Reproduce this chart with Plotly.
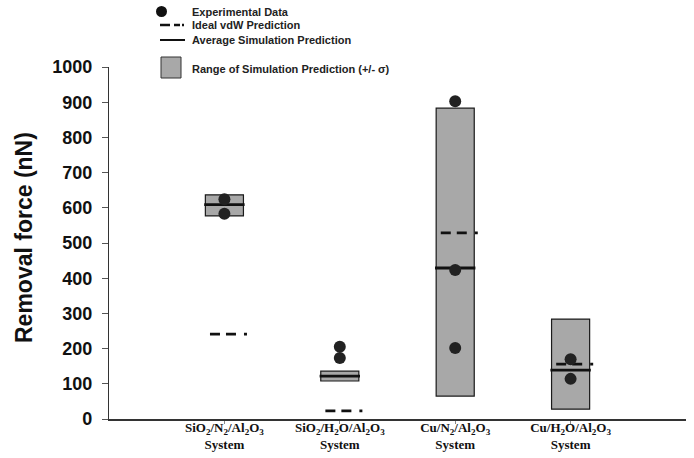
import plotly.graph_objects as go

# ---- data ----
categories = ["SiO<sub>2</sub>/N<sub>2</sub>/Al<sub>2</sub>O<sub>3</sub><br>System",
              "SiO<sub>2</sub>/H<sub>2</sub>O/Al<sub>2</sub>O<sub>3</sub><br>System",
              "Cu/N<sub>2</sub>/Al<sub>2</sub>O<sub>3</sub><br>System",
              "Cu/H<sub>2</sub>O/Al<sub>2</sub>O<sub>3</sub><br>System"]
positions = [1, 2, 3, 4]
range_low = [577, 108, 65, 28]
range_high = [637, 136, 883, 284]
avg_sim = [609, 122, 429, 139]
ideal_vdw = [241, 23, 529, 156]
exp_data = [[624, 583], [205, 173], [903, 423, 202], [170, 114]]
yticks = [0, 100, 200, 300, 400, 500, 600, 700, 800, 900, 1000]
y_title = "Removal force (nN)"

W, H = 694, 458
L, R, T, B = 109, 8, 67, 39
half = 0.165

fig = go.Figure()

# range boxes
fig.add_trace(go.Bar(
    x=positions, y=[h - l for h, l in zip(range_high, range_low)], base=range_low,
    width=2 * half, marker=dict(color="#a8a8a8", line=dict(color="#1a1a1a", width=1.2)),
    showlegend=False, hoverinfo="skip"))

# average lines
ax, ay = [], []
for p, v in zip(positions, avg_sim):
    ax += [p - half - 0.01, p + half + 0.01, None]
    ay += [v, v, None]
fig.add_trace(go.Scatter(x=ax, y=ay, mode="lines",
                         line=dict(color="#111", width=2.8), showlegend=False))

# ideal vdW dashed (one trace per system so each dash pattern starts fresh)
for p, v in zip(positions, ideal_vdw):
    fig.add_trace(go.Scatter(x=[p - half + 0.04, p + half + 0.04], y=[v, v], mode="lines",
                             line=dict(color="#111", width=2.8, dash="10px,6px,10px,8px,3px,60px"),
                             showlegend=False))

# experimental data
ex, ey = [], []
for p, vals in zip(positions, exp_data):
    for v in vals:
        ex.append(p)
        ey.append(v)
fig.add_trace(go.Scatter(x=ex, y=ey, mode="markers",
                         marker=dict(color="#222", size=12, line=dict(width=0)),
                         showlegend=False))

# ---- manual legend (pixel -> paper) ----
def px(x):
    return (x - L) / (W - L - R)

def py(y):
    return (H - B - y) / (H - T - B)

shapes = [
    dict(type="circle", xref="paper", yref="paper",
         x0=px(156), x1=px(167), y0=py(17), y1=py(6),
         fillcolor="#111", line=dict(width=0)),
    dict(type="line", xref="paper", yref="paper",
         x0=px(160), x1=px(170), y0=py(25), y1=py(25), line=dict(color="#111", width=2.5)),
    dict(type="line", xref="paper", yref="paper",
         x0=px(174), x1=px(180), y0=py(25), y1=py(25), line=dict(color="#111", width=2.5)),
    dict(type="line", xref="paper", yref="paper",
         x0=px(182), x1=px(184), y0=py(25), y1=py(25), line=dict(color="#111", width=2.5)),
    dict(type="line", xref="paper", yref="paper",
         x0=px(160), x1=px(185), y0=py(40), y1=py(40), line=dict(color="#111", width=2)),
    dict(type="rect", xref="paper", yref="paper",
         x0=px(161), x1=px(181), y0=py(78), y1=py(57),
         fillcolor="#a8a8a8", line=dict(color="#333", width=1)),
]
leg_text = [("Experimental Data", 12), ("Ideal vdW Prediction", 25),
            ("Average Simulation Prediction", 40), ("Range of Simulation Prediction (+/- σ)", 69)]
annotations = []
for t, yy in leg_text:
    annotations.append(dict(text="<b>" + t + "</b>", xref="paper", yref="paper",
                            x=px(190), y=py(yy), xanchor="left", yanchor="middle",
                            showarrow=False, font=dict(family="Arial, Liberation Sans", size=11, color="#222")))
# y-axis title
annotations.append(dict(text="<b>" + y_title + "</b>", xref="paper", yref="paper",
                        x=px(24), y=py(238), xanchor="center", yanchor="middle", textangle=-90,
                        showarrow=False, font=dict(family="Arial, Liberation Sans", size=23, color="#111")))

fig.update_layout(
    width=W, height=H,
    margin=dict(l=L, r=R, t=T, b=B),
    paper_bgcolor="white", plot_bgcolor="white",
    shapes=shapes, annotations=annotations,
    xaxis=dict(range=[0, 5], tickvals=positions,
               ticktext=["<b>" + c.replace("<br>", "</b><br><b>") + "</b>" for c in categories],
               automargin=False, ticklabelstandoff=-7,
               showline=True, linecolor="#333", linewidth=1.5, ticks="outside", ticklen=3,
               tickcolor="#888", showgrid=False, zeroline=False,
               tickfont=dict(family="Liberation Serif, Times New Roman", size=13, color="#111")),
    yaxis=dict(range=[0, 1000], tickvals=yticks, ticktext=["<b>%d</b>" % v for v in yticks],
               automargin=False, ticklabelstandoff=6,
               showline=True, linecolor="#333", linewidth=1.2,
               ticks="outside", ticklen=6, tickcolor="#555", showgrid=False, zeroline=False,
               tickfont=dict(family="Arial, Liberation Sans", size=18, color="#111")),
)

fig.write_html("out.html", config={"displayModeBar": False},
               post_script="document.body.style.margin='0';document.body.style.overflow='hidden';")
